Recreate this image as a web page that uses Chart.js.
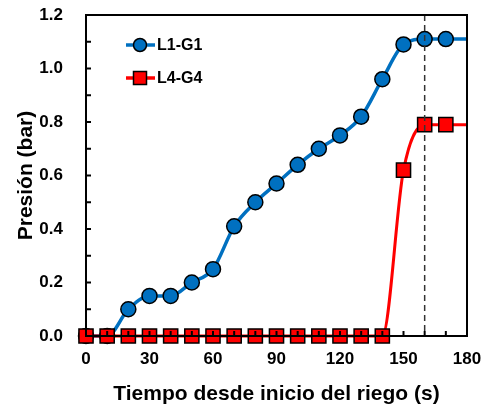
<!DOCTYPE html>
<html>
<head>
<meta charset="utf-8">
<script src="https://cdn.jsdelivr.net/npm/chart.js@4.4.0/dist/chart.umd.min.js"></script>
<style>
  html, body { margin: 0; padding: 0; background: #fff; }
  #wrap { width: 488px; height: 405px; }
</style>
</head>
<body>
<div id="wrap"><canvas id="myChart" width="488" height="405"></canvas></div>
<script>
// tiempo (s) y presion (bar)
const tiempos = [0, 10, 20, 30, 40, 50, 60, 70, 80, 90, 100, 110, 120, 130, 140, 150, 160, 170, 180];
const presionL1G1 = [0, 0, 0.10, 0.15, 0.15, 0.20, 0.25, 0.41, 0.50, 0.57, 0.64, 0.70, 0.75, 0.82, 0.96, 1.09, 1.11, 1.11, 1.11];
const presionL4G4 = [0, 0, 0, 0, 0, 0, 0, 0, 0, 0, 0, 0, 0, 0, 0, 0.62, 0.79, 0.79, 0.79];
const xTicks = [0, 30, 60, 90, 120, 150, 180];
const yTicks = [0, 0.2, 0.4, 0.6, 0.8, 1.0, 1.2];
const lineaVertical = 160;

const FONT = '"Liberation Sans", Arial, sans-serif';
const AZUL = '#0070C0';
const ROJO = '#FF0000';

const toPoints = (ys) => tiempos.map((t, i) => ({ x: t, y: ys[i] }));
// el ultimo punto (180) solo prolonga la linea, sin marcador
const radios = (r) => tiempos.map((t) => (t === 180 ? 0 : r));

const marcoPlugin = {
  id: 'marco',
  afterDatasetsDraw(chart) {
    const { ctx, chartArea: a, scales: { x } } = chart;
    ctx.save();
    // linea discontinua
    const px = x.getPixelForValue(lineaVertical);
    ctx.strokeStyle = '#333';
    ctx.lineWidth = 1.5;
    ctx.setLineDash([6, 4]);
    ctx.beginPath();
    ctx.moveTo(px, a.top);
    ctx.lineTo(px, a.bottom);
    ctx.stroke();
    ctx.setLineDash([]);
    ctx.restore();
  },
  afterDraw(chart) {
    const { ctx, chartArea: a, scales: { x, y } } = chart;
    ctx.save();
    ctx.strokeStyle = '#000';
    ctx.lineWidth = 2;
    // marcas hacia dentro
    for (let t = 10; t < 180; t += 10) {
      const px = x.getPixelForValue(t);
      ctx.beginPath();
      ctx.moveTo(px, a.bottom);
      ctx.lineTo(px, a.bottom - 5);
      ctx.stroke();
    }
    for (let k = 1; k < 12; k++) {
      const py = y.getPixelForValue(k / 10);
      ctx.beginPath();
      ctx.moveTo(a.left, py);
      ctx.lineTo(a.left + 5, py);
      ctx.stroke();
    }
    ctx.strokeRect(a.left, a.top, a.right - a.left, a.bottom - a.top);

    // leyenda
    const items = [
      { label: 'L1-G1', color: AZUL, style: 'circle', y: 45 },
      { label: 'L4-G4', color: ROJO, style: 'rect', y: 78 },
    ];
    items.forEach((it) => {
      ctx.strokeStyle = it.color;
      ctx.lineWidth = 3.5;
      ctx.beginPath();
      ctx.moveTo(126, it.y);
      ctx.lineTo(155, it.y);
      ctx.stroke();
      ctx.fillStyle = it.color;
      ctx.strokeStyle = '#000';
      ctx.lineWidth = 1.5;
      ctx.beginPath();
      if (it.style === 'circle') ctx.arc(140, it.y, 6.5, 0, Math.PI * 2);
      else ctx.rect(133.5, it.y - 6.5, 13, 13);
      ctx.fill();
      ctx.stroke();
      ctx.fillStyle = '#000';
      ctx.font = 'bold 16px ' + FONT;
      ctx.textBaseline = 'middle';
      ctx.textAlign = 'left';
      ctx.fillText(it.label, 157, it.y + 1);
    });
    ctx.restore();
  },
};

new Chart(document.getElementById('myChart'), {
  type: 'line',
  data: {
    datasets: [
      {
        label: 'L1-G1',
        data: toPoints(presionL1G1),
        borderColor: AZUL,
        backgroundColor: AZUL,
        borderWidth: 3.5,
        pointRadius: radios(7.5),
        pointBorderColor: '#000',
        pointBorderWidth: 1.5,
        pointStyle: 'circle',
        cubicInterpolationMode: 'monotone',
        clip: false,
        order: 2,
      },
      {
        label: 'L4-G4',
        data: toPoints(presionL4G4),
        borderColor: ROJO,
        backgroundColor: ROJO,
        borderWidth: 3,
        pointRadius: radios(10),
        pointBorderColor: '#000',
        pointBorderWidth: 1.5,
        pointStyle: 'rect',
        cubicInterpolationMode: 'monotone',
        clip: false,
        order: 1,
      },
    ],
  },
  options: {
    responsive: false,
    animation: false,
    layout: { padding: { left: 0, right: 21, top: 15, bottom: 0 } },
    plugins: { legend: { display: false }, tooltip: { enabled: false } },
    scales: {
      x: {
        type: 'linear',
        min: 0,
        max: 180,
        afterFit: (s) => { s.height = 69; s.paddingLeft = 0; s.paddingRight = 0; },
        afterBuildTicks: (s) => { s.ticks = xTicks.map((v) => ({ value: v })); },
        grid: { display: false },
        border: { display: false },
        ticks: { color: '#000', padding: 5, maxRotation: 0, font: { family: FONT, size: 17, weight: 'bold' } },
        title: {
          display: true,
          text: 'Tiempo desde inicio del riego (s)',
          color: '#000',
          padding: { top: 12, bottom: -2 },
          font: { family: FONT, size: 21, weight: 'bold' },
        },
      },
      y: {
        min: 0,
        max: 1.2,
        afterFit: (s) => { s.width = 86; s.paddingTop = 0; s.paddingBottom = 0; },
        afterBuildTicks: (s) => { s.ticks = yTicks.map((v) => ({ value: v })); },
        grid: { display: false },
        border: { display: false },
        ticks: {
          color: '#000',
          padding: 15,
          callback: (v) => v.toFixed(1),
          font: { family: FONT, size: 17, weight: 'bold' },
        },
        title: {
          display: true,
          text: 'Presión (bar)',
          color: '#000',
          padding: { top: 14, bottom: 0 },
          font: { family: FONT, size: 21, weight: 'bold' },
        },
      },
    },
  },
  plugins: [marcoPlugin],
});
</script>
</body>
</html>
